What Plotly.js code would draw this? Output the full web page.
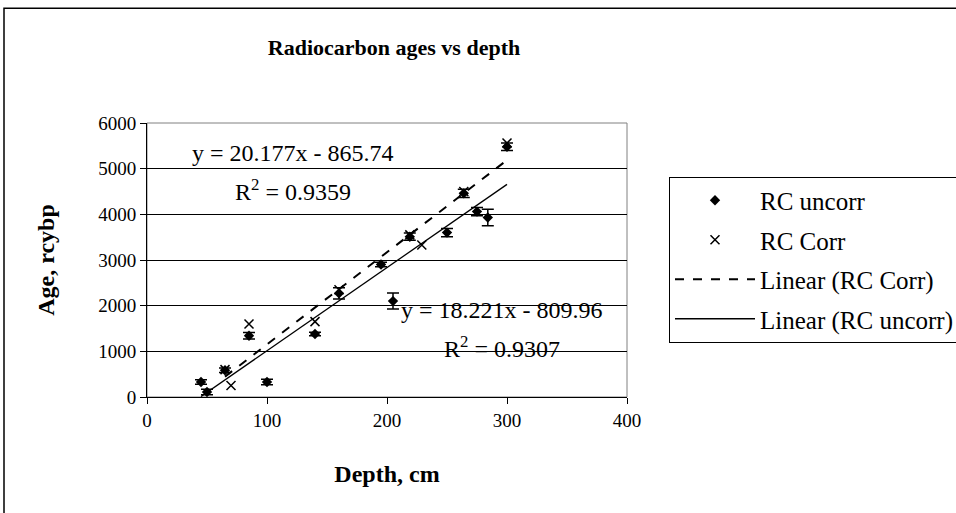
<!DOCTYPE html>
<html>
<head>
<meta charset="utf-8">
<script src="https://cdn.plot.ly/plotly-3.0.1.min.js"></script>
<style>
  html, body { margin: 0; padding: 0; background: #fff; }
  #chart { width: 956px; height: 513px; }
</style>
</head>
<body>
<div id="chart"></div>
<script>
// RC uncorr (diamonds with error bars)
const uncorrDepth = [45, 50, 65, 85, 100, 140, 160, 195, 205, 219, 250, 264, 275, 284, 300];
const uncorrAge   = [330, 110, 585, 1340, 330, 1380, 2270, 2900, 2100, 3510, 3600, 4460, 4060, 3930, 5480];
const uncorrErr   = [50, 60, 50, 70, 60, 40, 125, 50, 175, 80, 90, 90, 90, 180, 80];

// RC Corr (x markers)
const corrDepth = [65, 70, 85, 140, 160, 219, 229, 264, 300];
const corrAge   = [600, 250, 1600, 1650, 2350, 3550, 3330, 4500, 5560];

// Trendline equations as printed on the chart
const corrFit   = {slope: 20.177, intercept: -865.74, r2: "0.9359"};
const uncorrFit = {slope: 18.221, intercept: -809.96, r2: "0.9307"};

const xTicks = [0, 100, 200, 300, 400];
const yTicks = [0, 1000, 2000, 3000, 4000, 5000, 6000];

const FONT = "Liberation Serif, Times New Roman, serif";

function fitLine(xs, fit) {
  const lo = Math.min(...xs), hi = Math.max(...xs);
  return {x: [lo, hi], y: [fit.slope * lo + fit.intercept, fit.slope * hi + fit.intercept]};
}
const corrLine = fitLine(corrDepth, corrFit);
const uncorrLine = fitLine(uncorrDepth, uncorrFit);

const traces = [
  {
    x: uncorrDepth, y: uncorrAge, type: "scatter", mode: "markers", name: "RC uncorr",
    legendgroup: "a",
    marker: {symbol: "diamond", size: 8, color: "#000"},
    error_y: {type: "data", array: uncorrErr, visible: true, color: "#000", thickness: 1.5, width: 6}
  },
  {
    x: corrDepth, y: corrAge, type: "scatter", mode: "markers", name: "RC Corr",
    legendgroup: "b",
    marker: {symbol: "x-thin", size: 9, color: "#000", line: {color: "#000", width: 1.5}}
  },
  {
    x: corrLine.x, y: corrLine.y, type: "scatter", mode: "lines", name: "Linear (RC Corr)",
    legendgroup: "c",
    line: {color: "#000", width: 2, dash: "dash"}
  },
  {
    x: uncorrLine.x, y: uncorrLine.y, type: "scatter", mode: "lines", name: "Linear (RC uncorr)",
    legendgroup: "d",
    line: {color: "#000", width: 1.3}
  }
];

const fmt = v => Math.abs(v).toFixed(2);
const BIG = 24;
const layout = {
  width: 956, height: 513,
  margin: {l: 147, r: 329, t: 123, b: 116, autoexpand: false},
  paper_bgcolor: "#fff", plot_bgcolor: "#fff",
  font: {family: FONT, color: "#000", size: 19},
  showlegend: true,
  title: {
    text: "<b>Radiocarbon ages vs depth</b>",
    font: {family: FONT, size: 22, color: "#000"},
    x: 394 / 956, xref: "container", xanchor: "center",
    y: 1 - 47 / 513, yref: "container", yanchor: "middle"
  },
  xaxis: {
    range: [0, 400], tickvals: xTicks, ticktext: xTicks.map(String),
    showgrid: false, zeroline: false,
    showline: true, linecolor: "#000", linewidth: 1,
    ticks: "outside", ticklen: 6, tickcolor: "#000",
    tickfont: {family: FONT, size: 19, color: "#000"},
    title: {text: "<b>Depth, cm</b>", font: {family: FONT, size: BIG, color: "#000"}, standoff: 35}
  },
  yaxis: {
    range: [0, 6000], tickvals: yTicks, ticktext: yTicks.map(String),
    showgrid: true, gridcolor: "#000", gridwidth: 1, zeroline: false,
    showline: true, linecolor: "#000", linewidth: 1,
    ticks: "outside", ticklen: 6, tickcolor: "#000",
    tickfont: {family: FONT, size: 19, color: "#000"},
    title: {text: "<b>Age, rcybp</b>", font: {family: FONT, size: BIG, color: "#000"}, standoff: 36}
  },
  legend: {
    x: (669 - 147) / 480, y: (397 - 177) / 273.4, xanchor: "left", yanchor: "top",
    bordercolor: "#000", borderwidth: 1, bgcolor: "#fff",
    font: {family: FONT, size: 25, color: "#000"},
    itemwidth: 80, tracegroupgap: 4, traceorder: "grouped"
  },
  shapes: [
    {type: "rect", xref: "paper", yref: "paper", x0: 0, x1: 1, y0: 0, y1: 1,
     line: {color: "#808080", width: 1}, layer: "below"},
    {type: "rect", xref: "paper", yref: "paper",
     x0: (4 - 147) / 480, x1: 2, y0: -1, y1: (397 - 9) / 273.4,
     line: {color: "#000", width: 1.5}, fillcolor: "rgba(0,0,0,0)"}
  ],
  annotations: [
    {x: 122, y: 5340, xref: "x", yref: "y", showarrow: false,
     text: "y = " + corrFit.slope.toFixed(3) + "x - " + fmt(corrFit.intercept),
     font: {family: FONT, size: BIG, color: "#000"}},
    {x: 122, y: 4530, xref: "x", yref: "y", showarrow: false,
     text: "R<sup>2</sup> = " + corrFit.r2,
     font: {family: FONT, size: BIG, color: "#000"}},
    {x: 296, y: 1909, xref: "x", yref: "y", showarrow: false,
     text: "y = " + uncorrFit.slope.toFixed(3) + "x - " + fmt(uncorrFit.intercept),
     font: {family: FONT, size: BIG, color: "#000"}},
    {x: 296, y: 1090, xref: "x", yref: "y", showarrow: false,
     text: "R<sup>2</sup> = " + uncorrFit.r2,
     font: {family: FONT, size: BIG, color: "#000"}}
  ]
};

Plotly.newPlot("chart", traces, layout, {displayModeBar: false, staticPlot: true});
</script>
</body>
</html>
